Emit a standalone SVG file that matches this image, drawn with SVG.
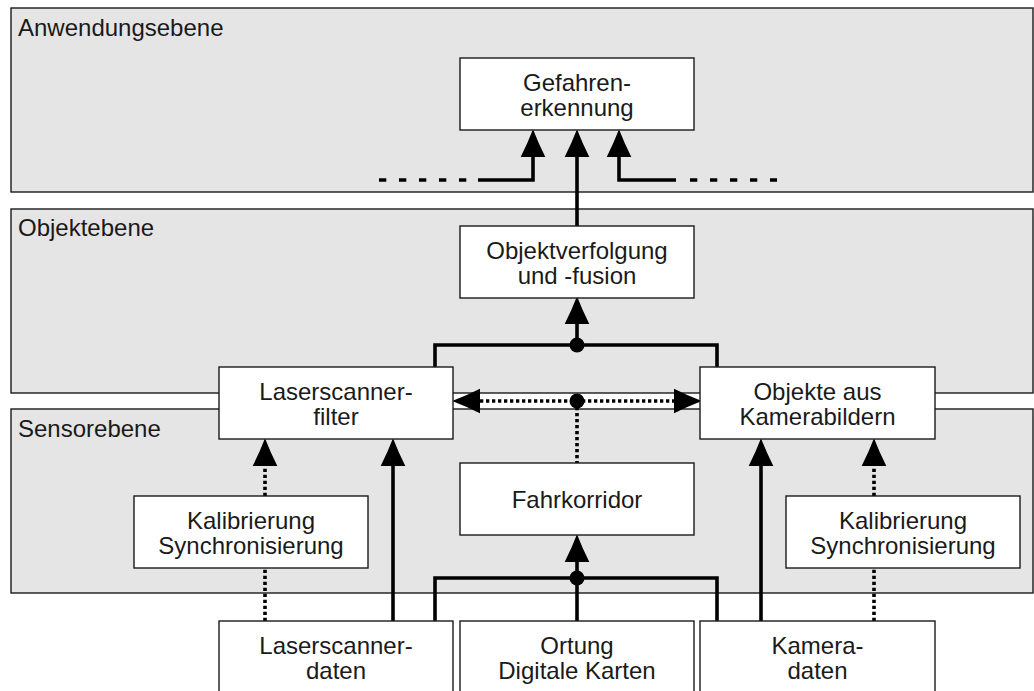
<svg xmlns="http://www.w3.org/2000/svg" width="1034" height="691" viewBox="0 0 1034 691">
  <style>
    .layer { fill: #e5e5e5; stroke: #1a1a1a; stroke-width: 1.4; }
    .box { fill: #ffffff; stroke: #1a1a1a; stroke-width: 1.4; }
    .lbl { font-family: "Liberation Sans", Arial, sans-serif; font-size: 24px; fill: #1a1a1a; }
    .layer-lbl { text-anchor: start; }
    .node-lbl { text-anchor: middle; }
    .wire { fill: none; stroke: #000; stroke-width: 3.6; }
    .dotted { stroke-dasharray: 3.3 2.7; }
    .dashed { stroke-dasharray: 7.3 12.7; }
    .junction { fill: #000; }
  </style>
  <defs>
    <marker id="head" markerUnits="userSpaceOnUse" markerWidth="30" markerHeight="30"
            viewBox="0 -13 28 26" refX="0" refY="0" orient="auto-start-reverse" overflow="visible">
      <path d="M0,-11.5 Q13,-5 26,0 Q13,5 0,11.5 Z" fill="#000"/>
    </marker>
  </defs>

  <!-- layers -->
  <g id="layers">
    <rect class="layer" x="11" y="8" width="1022" height="184"/>
    <rect class="layer" x="11" y="209" width="1022" height="184"/>
    <rect class="layer" x="11" y="409" width="1022" height="184"/>
    <text class="lbl layer-lbl" x="18" y="36">Anwendungsebene</text>
    <text class="lbl layer-lbl" x="18" y="236">Objektebene</text>
    <text class="lbl layer-lbl" x="18" y="437">Sensorebene</text>
  </g>

  <!-- connectors -->
  <g id="connectors">
    <!-- into hazard detection -->
    <path class="wire" d="M577,226 V157" marker-end="url(#head)"/>
    <path class="wire" d="M478,180 H533 V157" marker-end="url(#head)"/>
    <path class="wire dashed" d="M379,180 H478"/>
    <path class="wire" d="M676,180 H619 V157" marker-end="url(#head)"/>
    <path class="wire dashed" d="M690,180 H777"/>

    <!-- object tracking bus -->
    <path class="wire" d="M435,367 V345 H717 V367"/>
    <path class="wire" d="M577,345 V324" marker-end="url(#head)"/>
    <circle class="junction" cx="577" cy="345" r="7.5"/>

    <!-- driving corridor exchange between filters -->
    <path class="wire dotted" d="M480,401 H674" marker-start="url(#head)" marker-end="url(#head)"/>
    <path class="wire dotted" d="M577,401 V463"/>
    <circle class="junction" cx="577" cy="401" r="7.5"/>

    <!-- laser scanner path -->
    <path class="wire dotted" d="M265,496 V466" marker-end="url(#head)"/>
    <path class="wire dotted" d="M265,621 V568"/>
    <path class="wire" d="M393,621 V466" marker-end="url(#head)"/>

    <!-- camera path -->
    <path class="wire" d="M761,621 V466" marker-end="url(#head)"/>
    <path class="wire dotted" d="M874,496 V466" marker-end="url(#head)"/>
    <path class="wire dotted" d="M874,621 V568"/>

    <!-- driving corridor bus -->
    <path class="wire" d="M435,621 V578 H717 V621"/>
    <path class="wire" d="M577,621 V562" marker-end="url(#head)"/>
    <circle class="junction" cx="577" cy="578" r="7.5"/>
  </g>

  <!-- nodes -->
  <g id="gefahrenerkennung">
    <rect class="box" x="460" y="58" width="234" height="72"/>
    <text class="lbl node-lbl" x="577" y="91">Gefahren-</text>
    <text class="lbl node-lbl" x="577" y="116">erkennung</text>
  </g>
  <g id="objektverfolgung">
    <rect class="box" x="460" y="226" width="234" height="72"/>
    <text class="lbl node-lbl" x="577" y="259">Objektverfolgung</text>
    <text class="lbl node-lbl" x="577" y="284">und -fusion</text>
  </g>
  <g id="laserscannerfilter">
    <rect class="box" x="219" y="367" width="234" height="72"/>
    <text class="lbl node-lbl" x="336" y="400">Laserscanner-</text>
    <text class="lbl node-lbl" x="336" y="425">filter</text>
  </g>
  <g id="kameraobjekte">
    <rect class="box" x="700" y="367" width="235" height="72"/>
    <text class="lbl node-lbl" x="817.5" y="400">Objekte aus</text>
    <text class="lbl node-lbl" x="817.5" y="425">Kamerabildern</text>
  </g>
  <g id="fahrkorridor">
    <rect class="box" x="460" y="463" width="234" height="72"/>
    <text class="lbl node-lbl" x="577" y="508">Fahrkorridor</text>
  </g>
  <g id="kalibrierung-laser">
    <rect class="box" x="134" y="496" width="234" height="72"/>
    <text class="lbl node-lbl" x="251" y="529">Kalibrierung</text>
    <text class="lbl node-lbl" x="251" y="554">Synchronisierung</text>
  </g>
  <g id="kalibrierung-kamera">
    <rect class="box" x="786" y="496" width="234" height="72"/>
    <text class="lbl node-lbl" x="903" y="529">Kalibrierung</text>
    <text class="lbl node-lbl" x="903" y="554">Synchronisierung</text>
  </g>
  <g id="laserscannerdaten">
    <rect class="box" x="219" y="621" width="234" height="72"/>
    <text class="lbl node-lbl" x="336" y="654">Laserscanner-</text>
    <text class="lbl node-lbl" x="336" y="679">daten</text>
  </g>
  <g id="ortung">
    <rect class="box" x="460" y="621" width="234" height="72"/>
    <text class="lbl node-lbl" x="577" y="654">Ortung</text>
    <text class="lbl node-lbl" x="577" y="679">Digitale Karten</text>
  </g>
  <g id="kameradaten">
    <rect class="box" x="700" y="621" width="235" height="72"/>
    <text class="lbl node-lbl" x="817.5" y="654">Kamera-</text>
    <text class="lbl node-lbl" x="817.5" y="679">daten</text>
  </g>
</svg>
